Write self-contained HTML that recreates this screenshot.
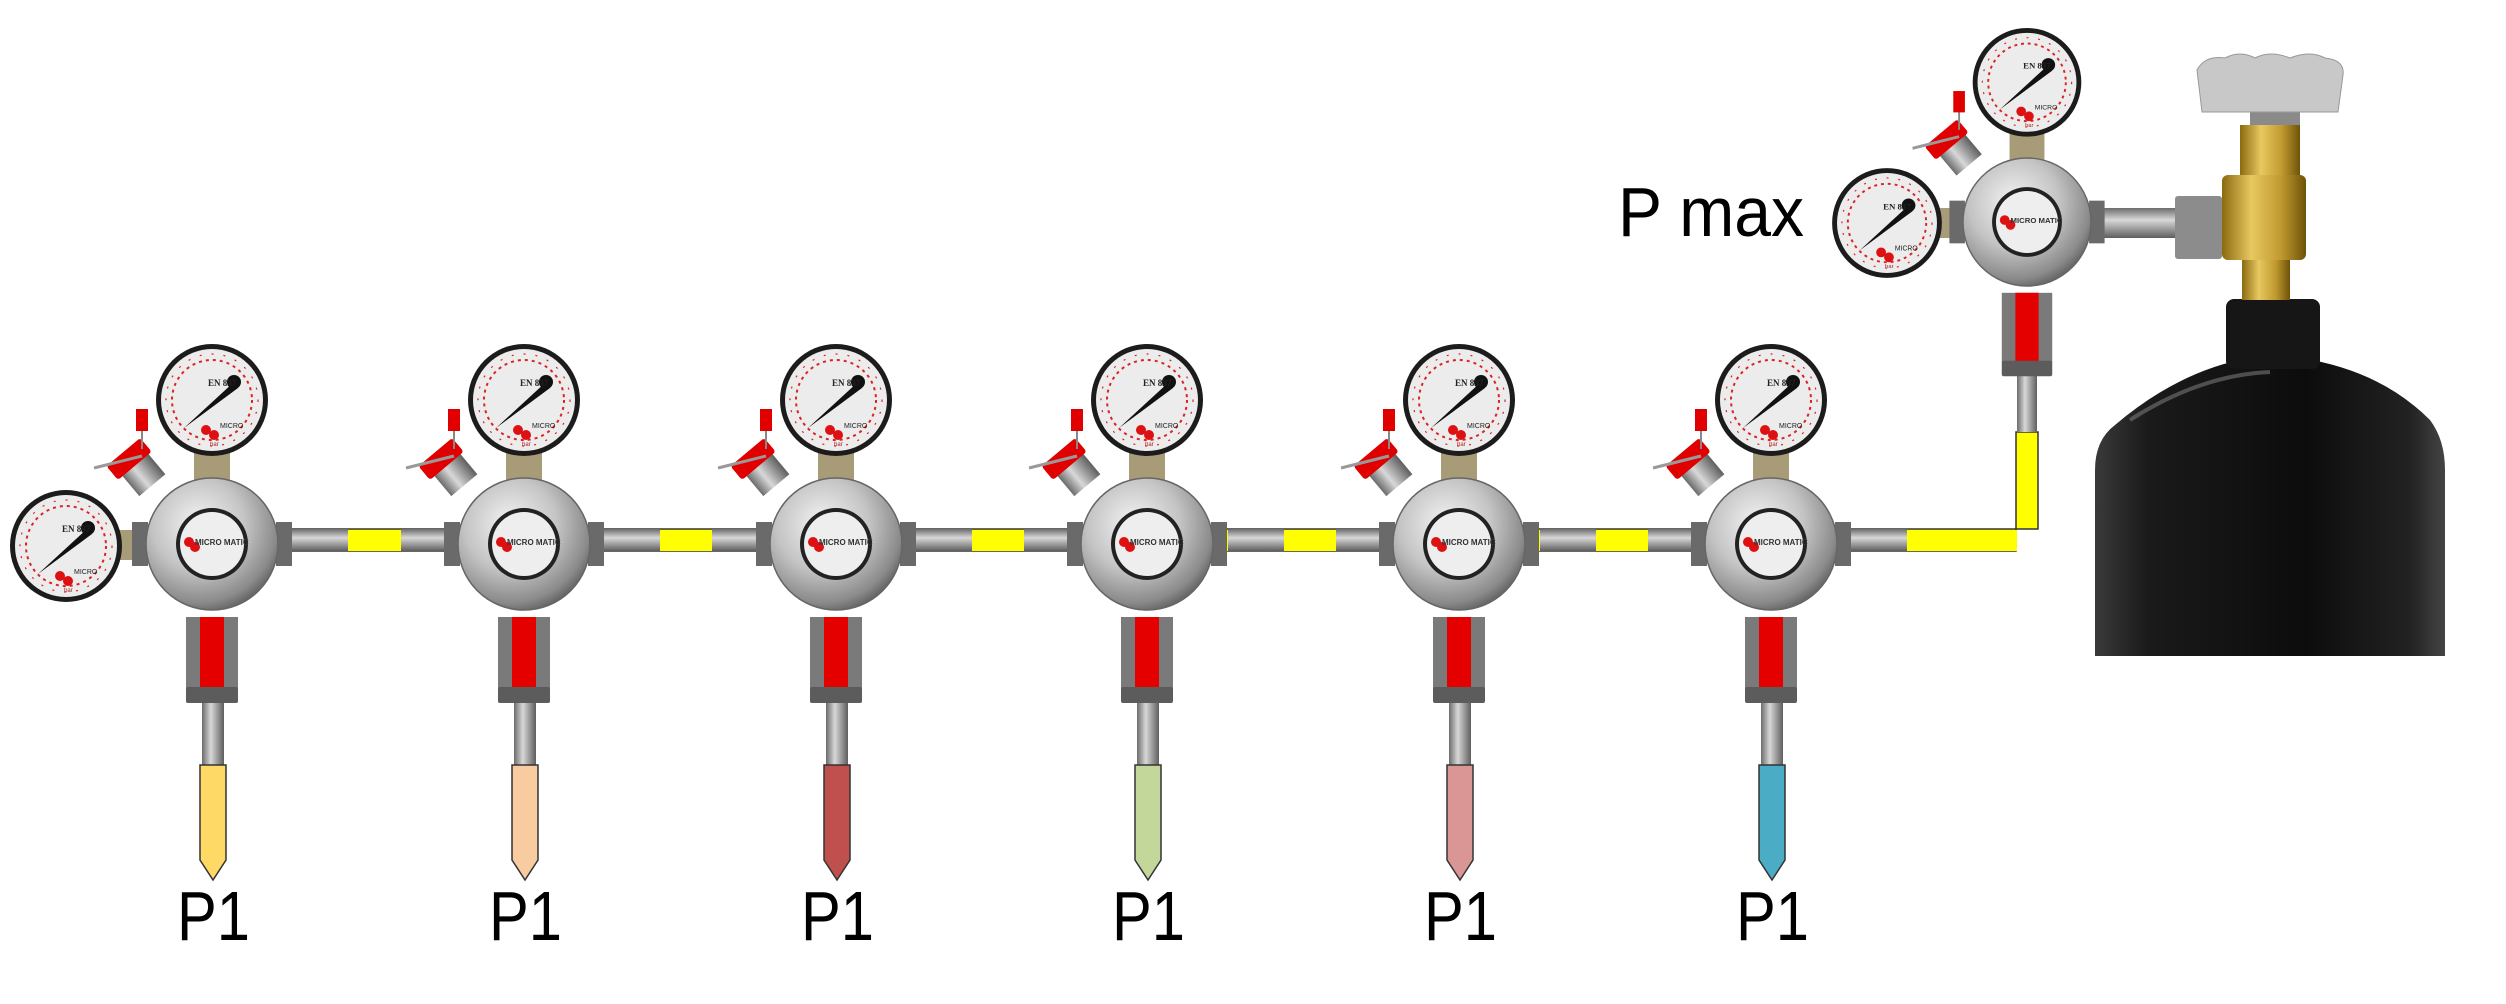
<!DOCTYPE html>
<html><head><meta charset="utf-8"><style>
html,body{margin:0;padding:0;background:#fff;}
svg{display:block;}
</style></head><body>
<svg width="2506" height="1004" viewBox="0 0 2506 1004" xmlns="http://www.w3.org/2000/svg">
<defs>
<radialGradient id="steel" cx="0.4" cy="0.35" r="0.7">
<stop offset="0" stop-color="#f4f4f4"/><stop offset="0.5" stop-color="#c4c4c4"/><stop offset="0.85" stop-color="#8a8a8a"/><stop offset="1" stop-color="#5a5a5a"/></radialGradient>
<linearGradient id="barb" x1="0" y1="0" x2="0" y2="1">
<stop offset="0" stop-color="#6b6b6b"/><stop offset="0.4" stop-color="#d8d8d8"/><stop offset="1" stop-color="#5e5e5e"/></linearGradient>
<linearGradient id="barbv" x1="0" y1="0" x2="1" y2="0">
<stop offset="0" stop-color="#6b6b6b"/><stop offset="0.4" stop-color="#d8d8d8"/><stop offset="1" stop-color="#5e5e5e"/></linearGradient>
<linearGradient id="brass" x1="0" y1="0" x2="1" y2="0">
<stop offset="0" stop-color="#8a6a10"/><stop offset="0.35" stop-color="#e8c860"/><stop offset="0.7" stop-color="#c09a30"/><stop offset="1" stop-color="#6e5208"/></linearGradient>
<linearGradient id="cyl" x1="0" y1="0" x2="1" y2="0">
<stop offset="0" stop-color="#3a3a3a"/><stop offset="0.15" stop-color="#1a1a1a"/><stop offset="0.6" stop-color="#0c0c0c"/><stop offset="0.9" stop-color="#222"/><stop offset="1" stop-color="#444"/></linearGradient>
<g id="gauge">
<circle r="56" fill="#1c1c1c"/>
<circle r="51" fill="#ececec"/>
<circle r="40" fill="none" stroke="#d22" stroke-width="2" stroke-dasharray="3 4"/>
<circle r="46" fill="none" stroke="#d22" stroke-width="1.2" stroke-dasharray="2 10"/>
<path d="M-28,28 L22,-18 L26,-12 Z" fill="#111"/>
<circle cx="22" cy="-18" r="7" fill="#111"/>
<circle cx="-6" cy="30" r="5" fill="#d11"/><circle cx="2" cy="35" r="5" fill="#d11"/>
<text x="-4" y="-14" font-family="Liberation Serif,serif" font-size="9" font-weight="bold" fill="#222">EN 837</text>
<text x="8" y="28" font-family="Liberation Sans,sans-serif" font-size="7" fill="#222">MICRO</text>
<text x="-2" y="46" font-family="Liberation Sans,sans-serif" font-size="6" fill="#a22">bar</text>
</g>
<g id="reg">
<rect x="-18" y="-100" width="36" height="40" fill="#a89c78"/>
<use href="#gauge" x="0" y="-144" transform="scale(1)"/>
<g transform="translate(-72,-72) rotate(-40)">
<rect x="-16" y="-12" width="34" height="30" fill="url(#barbv)"/>
<rect x="-22" y="-26" width="44" height="18" rx="3" fill="#e00000"/>
</g>
<line x1="-70" y1="-88" x2="-118" y2="-76" stroke="#999" stroke-width="3"/>
<line x1="-70" y1="-95" x2="-70" y2="-125" stroke="#888" stroke-width="2"/>
<rect x="-76" y="-135" width="12" height="22" fill="#e00000"/>
<rect x="64" y="-22" width="16" height="44" fill="#6a6a6a"/>
<rect x="-80" y="-22" width="16" height="44" fill="#6a6a6a"/>
<ellipse rx="66" ry="66" fill="url(#steel)" stroke="#666" stroke-width="1.5"/>
<ellipse rx="36" ry="36" fill="#222"/>
<ellipse rx="32" ry="32" fill="#eeeeee"/>
<circle cx="-23" cy="-2" r="5" fill="#d11"/><circle cx="-17" cy="3" r="5" fill="#d11"/>
<text x="-17" y="1" font-family="Liberation Sans,sans-serif" font-size="8" font-weight="bold" fill="#333">MICRO MATIC</text>
<rect x="-26" y="73" width="52" height="72" fill="#7a7a7a"/>
<rect x="-12" y="73" width="24" height="72" fill="#e50000"/>
<rect x="-26" y="143" width="52" height="16" rx="2" fill="#5c5c5c"/>
</g>
<g id="hbarb"><rect x="0" y="-11" width="56" height="22" fill="url(#barb)"/></g>
</defs>

<!-- yellow main line -->
<path d="M260,529 H2038 V432 H2016 V551 H260 Z" fill="#ffff00" stroke="#333" stroke-width="1.5"/>
<rect x="260" y="530" width="1757" height="21" fill="#ffff00"/>

<!-- regulators -->
<g id="regs">
<!-- left gauge of first -->
<rect x="110" y="530" width="40" height="30" fill="#a89c78"/>
<use href="#gauge" x="66" y="546"/>
</g>
<g>
<use href="#hbarb" x="292" y="540"/><use href="#hbarb" x="400" y="540" transform="translate(1,0)"/>
<use href="#hbarb" x="604" y="540"/><use href="#hbarb" x="712" y="540"/>
<use href="#hbarb" x="916" y="540"/><use href="#hbarb" x="1024" y="540"/>
<use href="#hbarb" x="1228" y="540"/><use href="#hbarb" x="1336" y="540"/>
<use href="#hbarb" x="1540" y="540"/><use href="#hbarb" x="1648" y="540"/>
<use href="#hbarb" x="1851" y="540"/>
<rect x="2017" y="375" width="20" height="57" fill="url(#barbv)"/>
</g>
<use href="#reg" x="212" y="544"/>
<use href="#reg" x="524" y="544"/>
<use href="#reg" x="836" y="544"/>
<use href="#reg" x="1147" y="544"/>
<use href="#reg" x="1459" y="544"/>
<use href="#reg" x="1771" y="544"/>

<!-- hoses -->
<g stroke="#333" stroke-width="1.5">
<rect x="202" y="703" width="22" height="62" fill="url(#barbv)" stroke="none"/>
<path d="M200,765 H226 V860 L213,880 L200,860 Z" fill="#ffd966"/>
<rect x="514" y="703" width="22" height="62" fill="url(#barbv)" stroke="none"/>
<path d="M512,765 H538 V860 L525,880 L512,860 Z" fill="#f8cba0"/>
<rect x="826" y="703" width="22" height="62" fill="url(#barbv)" stroke="none"/>
<path d="M824,765 H850 V860 L837,880 L824,860 Z" fill="#c0504d"/>
<rect x="1137" y="703" width="22" height="62" fill="url(#barbv)" stroke="none"/>
<path d="M1135,765 H1161 V860 L1148,880 L1135,860 Z" fill="#c4d79b"/>
<rect x="1449" y="703" width="22" height="62" fill="url(#barbv)" stroke="none"/>
<path d="M1447,765 H1473 V860 L1460,880 L1447,860 Z" fill="#d99694"/>
<rect x="1761" y="703" width="22" height="62" fill="url(#barbv)" stroke="none"/>
<path d="M1759,765 H1785 V860 L1772,880 L1759,860 Z" fill="#4bacc6"/>
</g>

<g font-family="Liberation Sans, sans-serif" font-size="70" fill="#000">
<text x="177" y="940" textLength="73" lengthAdjust="spacingAndGlyphs">P1</text>
<text x="489" y="940" textLength="73" lengthAdjust="spacingAndGlyphs">P1</text>
<text x="801" y="940" textLength="73" lengthAdjust="spacingAndGlyphs">P1</text>
<text x="1112" y="940" textLength="73" lengthAdjust="spacingAndGlyphs">P1</text>
<text x="1424" y="940" textLength="73" lengthAdjust="spacingAndGlyphs">P1</text>
<text x="1736" y="940" textLength="73" lengthAdjust="spacingAndGlyphs">P1</text>
<text x="1618" y="236" textLength="186" lengthAdjust="spacingAndGlyphs">P max</text>
</g>

<!-- cylinder -->
<path d="M2095,656 V470 Q2095,440 2115,425 Q2180,370 2250,358 H2300 Q2380,370 2430,420 Q2445,440 2445,470 V656 Z" fill="url(#cyl)"/>
<path d="M2130,420 Q2200,375 2270,372" stroke="#777" stroke-width="4" fill="none" opacity="0.6"/>
<rect x="2226" y="299" width="94" height="70" rx="8" fill="#161616"/>
<!-- valve -->
<rect x="2250" y="112" width="50" height="16" fill="#8a8a8a"/>
<path d="M2197,70 Q2205,55 2225,58 Q2240,50 2255,58 Q2270,50 2290,58 Q2310,50 2325,58 Q2345,60 2343,75 L2338,112 H2202 Z" fill="#c8c8c8" stroke="#999"/>
<rect x="2240" y="125" width="60" height="50" fill="url(#brass)"/>
<rect x="2222" y="175" width="84" height="85" rx="6" fill="url(#brass)"/>
<rect x="2242" y="260" width="48" height="40" fill="url(#brass)"/>
<!-- top reg pipe -->
<rect x="2090" y="208" width="88" height="30" fill="url(#barb)"/>
<rect x="2175" y="196" width="47" height="63" rx="3" fill="#8c8c8c"/>
<!-- top regulator -->
<rect x="1920" y="208" width="40" height="30" fill="#a89c78"/>
<use href="#gauge" x="1887" y="223" transform="translate(1887,223) scale(0.98) translate(-1887,-223)"/>
<g transform="translate(2027,222) scale(0.97)">
<use href="#reg" x="0" y="0"/>
</g>
</svg>
</body></html>
